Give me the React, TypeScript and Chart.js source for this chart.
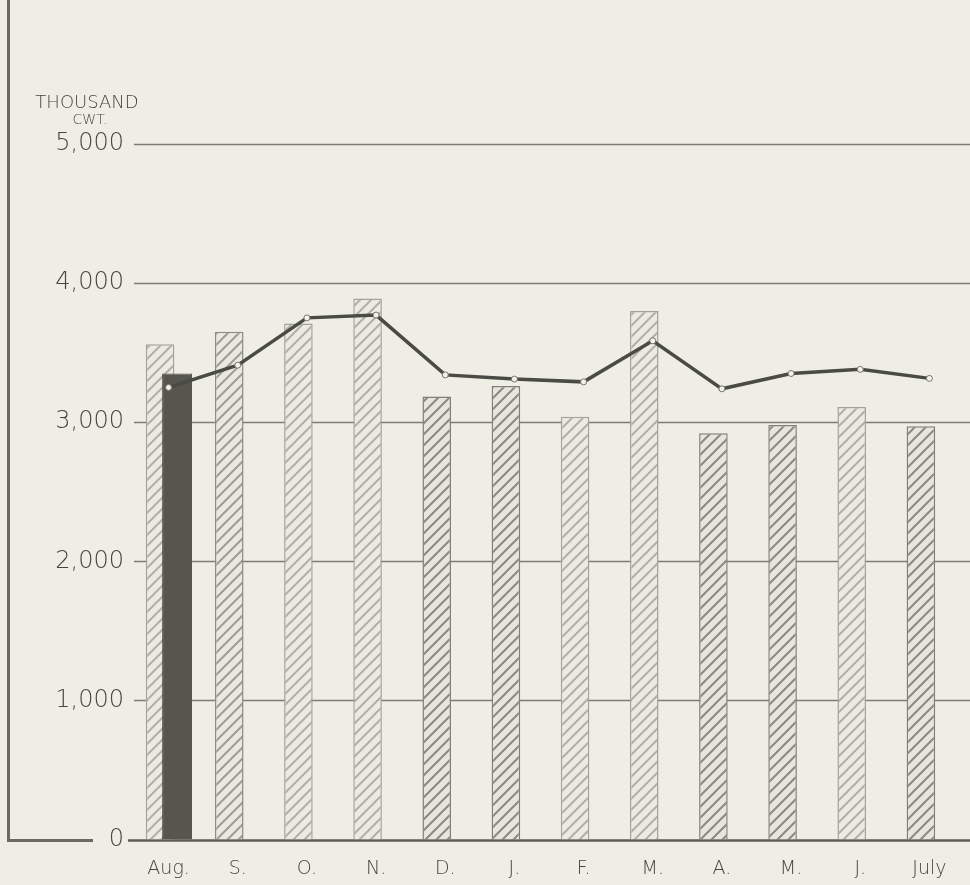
import React, { useEffect, useRef } from 'react';
import { Chart, registerables } from 'chart.js';

Chart.register(...registerables);

// ---- data ----
const months = ['Aug.', 'S.', 'O.', 'N.', 'D.', 'J.', 'F.', 'M.', 'A.', 'M.', 'J.', 'July'];
const previousSeason = [3560, 3650, 3710, 3890, 3185, 3260, 3040, 3800, 2920, 2980, 3110, 2970];
const currentSeason = [3350, null, null, null, null, null, null, null, null, null, null, null];
const averageSeason = [3250, 3410, 3750, 3770, 3340, 3310, 3290, 3585, 3240, 3350, 3380, 3315];
const yMin = 0;
const yMax = 5000;
const yStep = 1000;
const unitLines = ['THOUSAND', 'CWT.'];

// ---- styles (kept apart from the data) ----
const hatchShade = ['light', 'mid', 'light', 'light', 'dark', 'dark', 'light', 'light', 'dark', 'dark', 'light', 'dark'];
const PAPER = '#eeeee5';
const INK = '#46463f';
const FONT = "'DejaVu Sans', 'Open Sans', sans-serif";
const WEIGHT = '200';

function makeHatch(bg: string, stroke: string, lw: number) {
  const n = 11;
  const c = document.createElement('canvas');
  c.width = n;
  c.height = n;
  const g = c.getContext('2d')!;
  g.fillStyle = bg;
  g.fillRect(0, 0, n, n);
  g.strokeStyle = stroke;
  g.lineWidth = lw;
  g.beginPath();
  g.moveTo(-2, n + 2);
  g.lineTo(n + 2, -2);
  g.moveTo(-2, 2);
  g.lineTo(2, -2);
  g.moveTo(n - 2, n + 2);
  g.lineTo(n + 2, n - 2);
  g.stroke();
  const ctx = document.createElement('canvas').getContext('2d')!;
  return ctx.createPattern(c, 'repeat')!;
}

const PREV_IDX = 1;
const CUR_IDX = 2;

const drawOrderPlugin = {
  id: 'drawOrder',
  beforeDatasetDraw(chart: any, args: any) {
    if (args.index === CUR_IDX) return false;
    return true;
  },
  afterDatasetDraw(chart: any, args: any) {
    if (args.index === PREV_IDX) {
      const meta = chart.getDatasetMeta(CUR_IDX);
      if (meta && meta.controller) meta.controller.draw();
    }
  },
};

const decorPlugin = {
  id: 'decor',
  beforeDatasetsDraw(chart: any) {
    const { ctx, chartArea, scales } = chart;
    const y = scales.y;
    ctx.save();
    y.ticks.forEach((t: any) => {
      const py = Math.round(y.getPixelForValue(t.value)) + 0.5;
      ctx.beginPath();
      if (t.value === 0) {
        ctx.strokeStyle = '#5c5c55';
        ctx.lineWidth = 2.5;
        ctx.moveTo(chartArea.left - 6, py);
      } else {
        ctx.strokeStyle = '#7d7d75';
        ctx.lineWidth = 1.5;
        ctx.moveTo(chartArea.left, py);
      }
      ctx.lineTo(chart.width, py);
      ctx.stroke();
    });
    // frame fragment at the left
    const base = Math.round(y.getPixelForValue(0)) + 0.5;
    ctx.strokeStyle = '#6a6a63';
    ctx.lineWidth = 3;
    ctx.beginPath();
    ctx.moveTo(8.5, 0);
    ctx.lineTo(8.5, base);
    ctx.lineTo(93, base);
    ctx.stroke();
    // unit title
    ctx.fillStyle = INK;
    ctx.textAlign = 'center';
    ctx.textBaseline = 'alphabetic';
    ctx.font = `${WEIGHT} 18px ${FONT}`;
    ctx.fillText(unitLines[0], 87, 108);
    ctx.font = `${WEIGHT} 14px ${FONT}`;
    ctx.fillText(unitLines[1], 90, 124);
    ctx.restore();
  },
};

export default function App() {
  const ref = useRef<HTMLCanvasElement | null>(null);

  useEffect(() => {
    if (!ref.current) return;
    const patterns: Record<string, CanvasPattern> = {
      light: makeHatch('#ebebe2', '#b0b0a7', 2),
      mid: makeHatch('#e9e9df', '#9d9d94', 2),
      dark: makeHatch('#e6e6dc', '#8a8a82', 2),
    };
    const borders: Record<string, string> = {
      light: '#a3a39a',
      mid: '#8c8c84',
      dark: '#808078',
    };

    const chart = new Chart(ref.current, {
      type: 'bar',
      data: {
        labels: months,
        datasets: [
          {
            type: 'line',
            label: 'Average',
            data: averageSeason,
            order: 0,
            borderColor: '#4b4b45',
            borderWidth: 3.5,
            pointRadius: 3,
            pointBackgroundColor: '#f2f2ea',
            pointBorderColor: '#75756d',
            pointBorderWidth: 1,
            tension: 0,
          } as any,
          {
            type: 'bar',
            label: 'Previous season',
            data: previousSeason,
            order: 1,
            backgroundColor: (c: any) => patterns[hatchShade[c.dataIndex] || 'mid'],
            borderColor: (c: any) => borders[hatchShade[c.dataIndex] || 'mid'],
            borderWidth: 1.5,
            categoryPercentage: 0.492,
            barPercentage: 1.68,
          },
          {
            type: 'bar',
            label: 'Current season',
            data: currentSeason,
            order: 2,
            backgroundColor: '#56564f',
            borderColor: '#4e4e48',
            borderWidth: 1,
            categoryPercentage: 0.492,
            barPercentage: 1.76,
          },
        ],
      },
      options: {
        responsive: false,
        animation: false,
        devicePixelRatio: 1,
        layout: { padding: { top: 144, right: 6, bottom: 0, left: 0 } },
        plugins: {
          legend: { display: false },
          tooltip: { enabled: false },
        },
        scales: {
          x: {
            type: 'category',
            grid: { display: false, drawTicks: false },
            border: { display: false },
            ticks: {
              color: INK,
              font: { family: FONT, size: 19, weight: WEIGHT },
              padding: 18,
              maxRotation: 0,
              autoSkip: false,
            },
            afterFit: (s: any) => {
              s.height = 45.5;
            },
          },
          y: {
            min: yMin,
            max: yMax,
            grid: { display: false, drawTicks: false },
            border: { display: false },
            ticks: {
              stepSize: yStep,
              color: INK,
              font: { family: FONT, size: 24, weight: WEIGHT },
              padding: 10,
              callback: (v: any) => Number(v).toLocaleString('en-US'),
            },
            afterFit: (s: any) => {
              s.width = 134;
            },
          },
        },
      },
      plugins: [drawOrderPlugin, decorPlugin],
    } as any);

    return () => chart.destroy();
  }, []);

  return (
    <div
      style={{
        position: 'absolute',
        left: 0,
        top: 0,
        width: 970,
        height: 885,
        background: PAPER,
        overflow: 'hidden',
      }}
    >
      <canvas ref={ref} width={970} height={885} style={{ display: 'block' }} />
    </div>
  );
}
